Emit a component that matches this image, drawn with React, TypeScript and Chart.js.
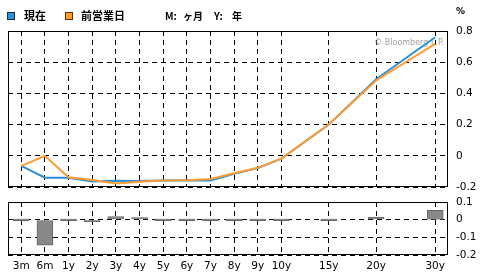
import React, { useEffect, useRef } from "react";
import { Chart, registerables } from "chart.js";

Chart.register(...registerables);

const tenorLabels = ["3m", "6m", "1y", "2y", "3y", "4y", "5y", "6y", "7y", "8y", "9y", "10y", "15y", "20y", "30y"];
const tenorAxisPos = [0, 1, 2, 3, 4, 5, 6, 7, 8, 9, 10, 11, 13, 15, 17.5];
const currentYield = [-0.065, -0.14, -0.14, -0.165, -0.16, -0.162, -0.158, -0.156, -0.158, -0.116, -0.078, -0.018, 0.2, 0.491, 0.76];
const previousYield = [-0.065, 0.0, -0.137, -0.155, -0.177, -0.167, -0.158, -0.156, -0.149, -0.112, -0.077, -0.018, 0.2, 0.483, 0.718];
const changeValues = [0, -0.145, 0, -0.012, 0.018, 0.005, 0, 0, 0, 0, 0, 0, 0, 0.015, 0.053];
const topTicks = [-0.2, 0, 0.2, 0.4, 0.6, 0.8];
const bottomTicks = [-0.2, -0.1, 0, 0.1];

const BLUE = "#2a90d8";
const ORANGE = "#ff9b30";
const FONT = "DejaVu Sans";

const fmt = (v: number) => {
  const r = Math.round(v * 10) / 10;
  return r === 0 ? "0" : String(r);
};

const frame = {
  id: "frame",
  afterDraw(chart: any) {
    const { ctx, chartArea: a } = chart;
    ctx.save();
    ctx.strokeStyle = "#000";
    ctx.lineWidth = 1;
    ctx.setLineDash([]);
    ctx.strokeRect(a.left + 0.5, a.top + 0.5, a.right - a.left - 1, a.bottom - a.top - 1);
    ctx.restore();
  },
};

const watermark = {
  id: "watermark",
  beforeDatasetsDraw(chart: any) {
    const { ctx, chartArea: a } = chart;
    ctx.save();
    ctx.fillStyle = "#a0a0a0";
    ctx.font = `8px ${FONT}`;
    ctx.textAlign = "right";
    ctx.textBaseline = "middle";
    ctx.fillText("© Bloomberg L.P.", a.right - 4, 43);
    ctx.restore();
  },
};

const legend = {
  id: "legendHeader",
  afterDraw(chart: any) {
    const { ctx } = chart;
    ctx.save();
    const sq = (x: number, fill: string, stroke: string) => {
      ctx.fillStyle = fill;
      ctx.fillRect(x, 12, 8, 8);
      ctx.strokeStyle = stroke;
      ctx.lineWidth = 1;
      ctx.strokeRect(x + 0.5, 12.5, 7, 7);
    };
    sq(7, BLUE, "#0b3050");
    sq(65, ORANGE, "#603000");
    ctx.fillStyle = "#000";
    ctx.textBaseline = "middle";
    ctx.textAlign = "left";
    ctx.font = `bold 11px "Noto Sans CJK JP"`;
    ctx.fillText("現在", 24, 16);
    ctx.fillText("前営業日", 81, 16);
    ctx.font = `bold 10px "Noto Sans CJK JP"`;
    ctx.fillText("M:", 165, 16);
    ctx.fillText("ヶ月", 183, 16);
    ctx.fillText("Y:", 214, 16);
    ctx.fillText("年", 232, 16);
    ctx.font = `bold 9px ${FONT}`;
    ctx.fillText("%", 456, 12);
    ctx.restore();
  },
};

const xMin = -0.56;
const xMax = 18.04;

const noPad = (s: any) => {
  s.paddingTop = 0;
  s.paddingBottom = 0;
  s.paddingLeft = 0;
  s.paddingRight = 0;
};

export default function App() {
  const topRef = useRef<HTMLCanvasElement | null>(null);
  const botRef = useRef<HTMLCanvasElement | null>(null);

  useEffect(() => {
    Chart.defaults.font.family = FONT;
    Chart.defaults.color = "#000";
    const gridCommon = { color: "#000", lineWidth: 1, drawTicks: false };
    const borderCommon = { display: false, dash: [5, 4] };

    const top = new Chart(topRef.current!, {
      type: "line",
      data: {
        datasets: [
          {
            label: "前営業日",
            data: tenorAxisPos.map((x, i) => ({ x, y: previousYield[i] })),
            borderColor: ORANGE,
            borderWidth: 2,
            pointRadius: 0,
            tension: 0,
            order: 0,
          },
          {
            label: "現在",
            data: tenorAxisPos.map((x, i) => ({ x, y: currentYield[i] })),
            borderColor: BLUE,
            borderWidth: 2,
            pointRadius: 0,
            tension: 0,
            order: 1,
          },
        ],
      },
      options: {
        animation: false,
        responsive: false,
        maintainAspectRatio: false,
        layout: { padding: { left: 8, top: 31, right: 0, bottom: 0 } },
        plugins: { legend: { display: false }, tooltip: { enabled: false } },
        scales: {
          x: {
            type: "linear",
            min: xMin,
            max: xMax,
            grid: gridCommon,
            border: borderCommon,
            ticks: { display: false },
            afterBuildTicks: (s: any) => {
              s.ticks = tenorAxisPos.map((v) => ({ value: v }));
            },
            afterFit: (s: any) => {
              s.height = 8;
              noPad(s);
            },
          },
          y: {
            type: "linear",
            position: "right",
            min: -0.2,
            max: 0.8,
            grid: gridCommon,
            border: borderCommon,
            ticks: { autoSkip: false, padding: 8, font: { size: 10.5 }, callback: (v: any) => fmt(Number(v)) },
            afterBuildTicks: (s: any) => {
              s.ticks = topTicks.map((v) => ({ value: v }));
            },
            afterFit: (s: any) => {
              s.width = 36;
              noPad(s);
            },
          },
        },
      },
      plugins: [watermark, frame, legend],
    });

    const bottom = new Chart(botRef.current!, {
      type: "bar",
      data: {
        datasets: [
          {
            label: "変化",
            data: tenorAxisPos.map((x, i) => ({ x, y: changeValues[i] })),
            backgroundColor: "#888888",
            borderColor: "#666666",
            borderWidth: 1,
            barThickness: 16,
            minBarLength: 2,
          },
        ],
      },
      options: {
        animation: false,
        responsive: false,
        maintainAspectRatio: false,
        layout: { padding: { left: 8, top: 7, right: 0, bottom: 0 } },
        plugins: { legend: { display: false }, tooltip: { enabled: false } },
        scales: {
          x: {
            type: "linear",
            min: xMin,
            max: xMax,
            offset: false,
            grid: { ...gridCommon, offset: false },
            border: borderCommon,
            ticks: {
              autoSkip: false,
              maxRotation: 0,
              padding: 5,
              font: { size: 10.5 },
              callback: (_v: any, i: number) => tenorLabels[i],
            },
            afterBuildTicks: (s: any) => {
              s.ticks = tenorAxisPos.map((v) => ({ value: v }));
            },
            afterFit: (s: any) => {
              s.height = 20;
              noPad(s);
            },
          },
          y: {
            type: "linear",
            position: "right",
            min: -0.2,
            max: 0.1,
            grid: gridCommon,
            border: borderCommon,
            ticks: { autoSkip: false, padding: 8, font: { size: 10.5 }, callback: (v: any) => fmt(Number(v)) },
            afterBuildTicks: (s: any) => {
              s.ticks = bottomTicks.map((v) => ({ value: v }));
            },
            afterFit: (s: any) => {
              s.width = 36;
              noPad(s);
            },
          },
        },
      },
      plugins: [frame],
    });

    return () => {
      top.destroy();
      bottom.destroy();
    };
  }, []);

  return (
    <div style={{ position: "fixed", left: 0, top: 0, width: 484, height: 275, background: "#fff" }}>
      <canvas ref={topRef} width={484} height={195} style={{ position: "absolute", left: 0, top: 0, width: 484, height: 195 }} />
      <canvas ref={botRef} width={484} height={80} style={{ position: "absolute", left: 0, top: 195, width: 484, height: 80 }} />
    </div>
  );
}
